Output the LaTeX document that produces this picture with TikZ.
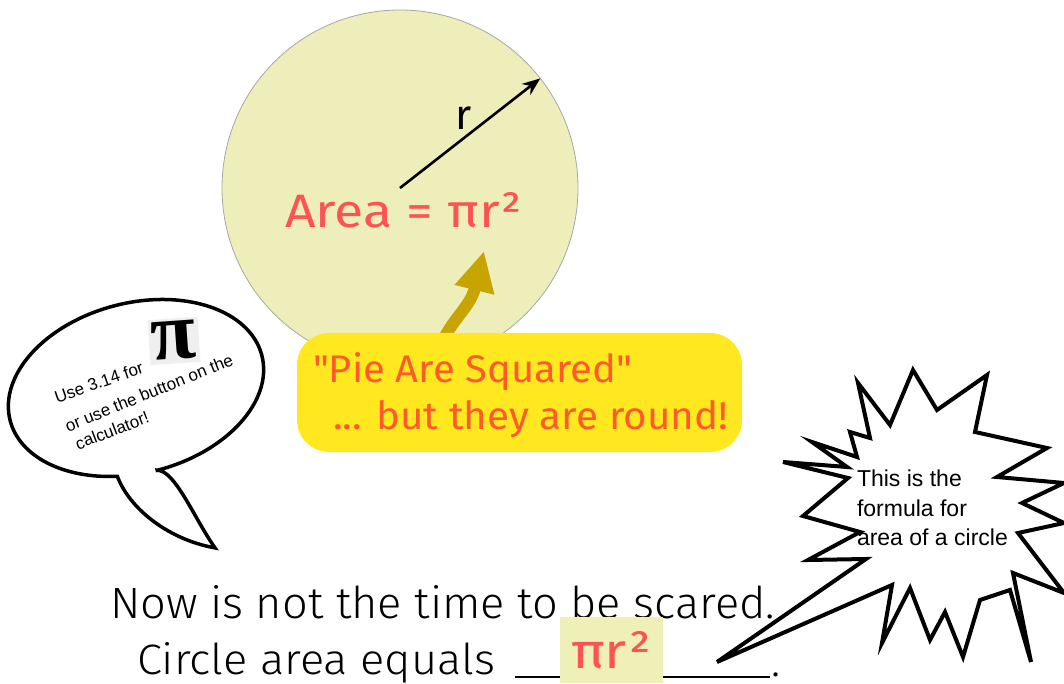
\documentclass[tikz,border=0pt]{standalone}
\usepackage{fontspec}
\setmainfont{Liberation Sans}
\newfontfamily\comic{Fira Sans}
\newfontfamily\hand{Fira Sans Light}
\newfontfamily\piserif{Liberation Serif}
\usetikzlibrary{arrows.meta}
\definecolor{circfill}{HTML}{EDEEBA}
\definecolor{areared}{HTML}{FF5252}
\definecolor{piered}{HTML}{FF5A2E}
\definecolor{boxyellow}{HTML}{FFE81F}
\definecolor{goldarrow}{HTML}{C8A400}
\definecolor{blankfill}{HTML}{EEF0B8}
\definecolor{pibox}{HTML}{EFEFEF}
\tikzset{
  plain/.style={inner sep=0pt, outer sep=0pt},
  bubbletext/.style={plain, anchor=base west, font=\fontsize{17}{18}\selectfont},
  outline/.style={draw=black, line width=3.5pt, fill=white}
}
\begin{document}
\begin{tikzpicture}[x=1pt,y=1pt]
\useasboundingbox (0,0) rectangle (1064,683);
% main disc
\node[circle, plain, minimum size=356pt, draw=gray!70, line width=0.8pt, fill=circfill] (disc) at (400,495) {};
\draw[line width=2.6pt, -{Stealth[length=18pt,width=14pt]}] (disc.center) -- (disc.38);
\node[plain, anchor=base] (rlab) at (464,553) {\comic\fontsize{42}{42}\selectfont r};
\node[plain, anchor=base west, text=areared] (area) at (285,455) {\resizebox{237pt}{35pt}{\comic Area = πr²}};
% gold arrow
\coordinate (gs) at (440,336);
\coordinate (ge) at (484,432);
\draw[goldarrow, line width=12pt, -{Triangle[length=40pt,width=38pt]}] (gs) .. controls (452,365) and (470,375) .. (ge);
% yellow box
\node[plain, fill=boxyellow, rounded corners=32pt, minimum width=445pt, minimum height=119pt, anchor=south west] (pie) at (297,231) {};
\node[plain, anchor=base west, text=piered] (pie1) at (313,300) {\resizebox{319pt}{30pt}{\comic "Pie Are Squared"}};
\node[plain, anchor=base west, text=piered] (pie2) at (333,253) {\resizebox{395pt}{29pt}{\comic ... but they are round!}};
% speech bubble
\begin{scope}[shift={(136,295)}, rotate=14.5]
\path[outline] (0,-85) arc[start angle=270, end angle=612, x radius=130, y radius=85]
  .. controls (-36.3,-116.6) and (-5.1,-155.6) .. (36.5,-174.6)
  .. controls (24.1,-142.5) and (17.3,-89.1) .. cycle;
\end{scope}
\node[plain, fill=pibox, minimum width=50pt, minimum height=45pt, rotate=4] (pisym) at (174,342) {\piserif\bfseries\fontsize{82}{82}\selectfont π};
\node[bubbletext, rotate=19] (b1) at (57,280) {Use 3.14 for};
\node[bubbletext, rotate=22] (b2) at (68,251) {or use the button on the};
\node[bubbletext, rotate=21] (b3) at (78,233) {calculator!};
% bottom text
\node[plain, anchor=base west] (now) at (110,65) {\resizebox{665pt}{33pt}{\hand Now is not the time to be scared.}};
\node[plain, anchor=base west] (circ) at (137,9) {\resizebox{358pt}{32pt}{\hand Circle area equals}};
\draw[line width=1.8pt] (515,6) -- (770,6);
\node[plain, anchor=base west] (dot) at (771,7) {\hand\fontsize{44}{44}\selectfont .};
\node[plain, fill=blankfill, minimum width=103pt, minimum height=66pt, anchor=south west] (blank) at (560,0) {};
\node[plain, anchor=base, text=areared] (pir) at (611,15) {\resizebox{80pt}{37pt}{\comic πr²}};
% starburst
\path[outline, line width=4pt, line join=miter] (783,221) -- (848,205) -- (803,167) -- (860,151) -- (808,123) -- (866,124)
  -- (717,21) -- (892,98) -- (882,40) -- (910,95) -- (930,43) -- (945,71) -- (963,26) -- (980,83)
  -- (1010,93) -- (1031,21) -- (1013,110) -- (1064,90) -- (1018,150) -- (1064,160) -- (1022,180)
  -- (1064,200) -- (997,206) -- (1047,235) -- (975,251) -- (987,308)
  -- (937,273) -- (913,313) -- (890,258) -- (858,300) -- (870,245) -- (850,251) -- (857,226)
  -- (812,241) -- (847,216) -- cycle;
\node[plain, anchor=north west, align=left, font=\fontsize{23}{29.5}\selectfont] (bursttext) at (857,213) {This is the\\formula for\\area of a circle};
\end{tikzpicture}
\end{document}
